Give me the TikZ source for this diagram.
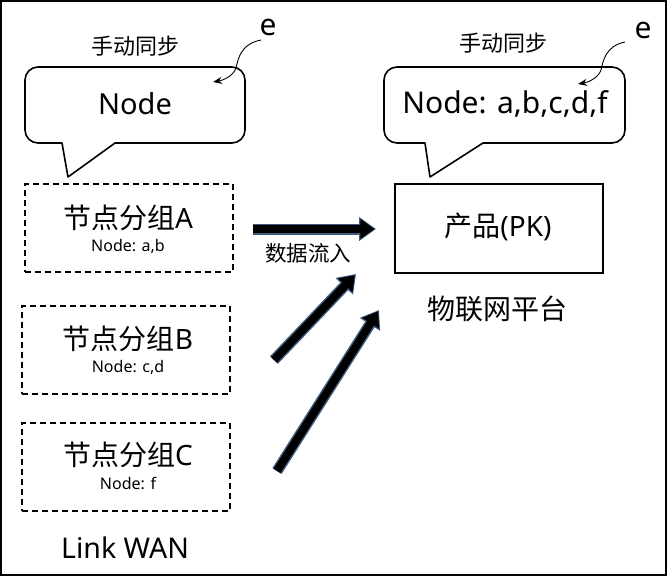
\documentclass[tikz,border=0pt]{standalone}
\usepackage{fontspec}
\setmainfont{Noto Sans}
\newfontfamily\cjk{Noto Sans CJK SC}
\usetikzlibrary{arrows.meta}
\definecolor{edgeblue}{RGB}{62,92,128}
\tikzset{
  lbl/.style={inner sep=0pt, anchor=center},
  callout/.style={draw=black, line width=1.6pt, fill=white, line join=round},
  groupbox/.style={draw=black, line width=1.6pt, dash pattern=on 6pt off 4pt, minimum width=208pt, minimum height=88pt, inner sep=0pt},
  prodbox/.style={draw=black, line width=1.8pt, minimum width=208pt, minimum height=89pt, inner sep=0pt},
  curvearrow/.style={line width=0.9pt, -{Stealth[length=9pt,width=7pt]}},
  blockouter/.style={draw=edgeblue, line width=11pt, -{Triangle[length=17pt,width=23pt]}},
  blockinner/.style={draw=black, line width=8pt, shorten >=1.6pt, -{Triangle[length=14pt,width=19pt]}}
}
\begin{document}
\begin{tikzpicture}[x=1pt,y=-1pt]
\useasboundingbox (0,0) rectangle (667,576);
\draw[line width=1.2pt] (1,1) rectangle (666,575);

% left callout
\draw[callout] (38,67) -- (232,67) arc[start angle=-90,end angle=0,radius=13] -- (245,130)
  arc[start angle=0,end angle=90,radius=13] -- (115,143) -- (68,177) -- (62,143) -- (38,143)
  arc[start angle=90,end angle=180,radius=13] -- (25,80) arc[start angle=180,end angle=270,radius=13] -- cycle;
\node[lbl, font=\fontsize{29}{30}\selectfont] (nodeL) at (135,104) {Node};
\node[lbl, font=\fontsize{22}{24}\cjk] (syncL) at (135,46) {手动同步};
\node[lbl, font=\fontsize{30}{30}\selectfont] (eL) at (268,27) {e};
\coordinate (eLs) at (261,40);
\coordinate (eLt) at (213,82);
\draw[curvearrow] (eLs) .. controls (240,44) and (238,60) .. (236,68) .. controls (233,76) and (224,80) .. (eLt);

% right callout
\draw[callout] (397,67) -- (612,67) arc[start angle=-90,end angle=0,radius=13] -- (625,130)
  arc[start angle=0,end angle=90,radius=13] -- (483,143) -- (430,177) -- (425,143) -- (397,143)
  arc[start angle=90,end angle=180,radius=13] -- (384,80) arc[start angle=180,end angle=270,radius=13] -- cycle;
\node[lbl, font=\fontsize{30}{30}\selectfont] (nodeR) at (505,104) {Node: a,b,c,d,f};
\node[lbl, font=\fontsize{22}{24}\cjk] (syncR) at (503,43) {手动同步};
\node[lbl, font=\fontsize{30}{30}\selectfont] (eR) at (643,30) {e};
\coordinate (eRs) at (625,42);
\coordinate (eRt) at (578,84);
\draw[curvearrow] (eRs) .. controls (605,46) and (603,62) .. (601,70) .. controls (598,78) and (589,82) .. (eRt);

% groups
\node[groupbox] (gA) at (129,228) {};
\node[lbl, font=\fontsize{28}{30}\selectfont] (gAt) at (128,218) {{\cjk 节点分组}A};
\node[lbl, font=\fontsize{16}{17}\selectfont] (gAn) at (128,246) {Node: a,b};

\node[groupbox] (gB) at (126,350) {};
\node[lbl, font=\fontsize{28}{30}\selectfont] (gBt) at (128,339) {{\cjk 节点分组}B};
\node[lbl, font=\fontsize{16}{17}\selectfont] (gBn) at (128,367) {Node: c,d};

\node[groupbox] (gC) at (126,467) {};
\node[lbl, font=\fontsize{28}{30}\selectfont] (gCt) at (128,455) {{\cjk 节点分组}C};
\node[lbl, font=\fontsize{16}{17}\selectfont] (gCn) at (128,483) {Node: f};

\node[lbl, font=\fontsize{28.5}{30}\selectfont] (wan) at (125,548) {Link WAN};

% product
\node[prodbox] (prod) at (499,228.5) {};
\node[lbl, font=\fontsize{28}{30}\selectfont] (prodt) at (498,227) {{\cjk 产品}(PK)};
\node[lbl, font=\fontsize{28}{30}\cjk] (iot) at (497,309) {物联网平台};

% flow label
\node[lbl, font=\fontsize{21.5}{24}\cjk] (flow) at (308,253) {数据流入};

% block arrows
\coordinate (a1s) at (253,229);
\coordinate (a1e) at (376,229);
\coordinate (a2s) at (274,360);
\coordinate (a2e) at (356,274);
\coordinate (a3s) at (277,471);
\coordinate (a3e) at (379,310);
\foreach \s/\e in {a1s/a1e,a2s/a2e,a3s/a3e}{
  \draw[blockouter] (\s) -- (\e);
  \draw[blockinner] (\s) -- (\e);
}
\end{tikzpicture}
\end{document}
